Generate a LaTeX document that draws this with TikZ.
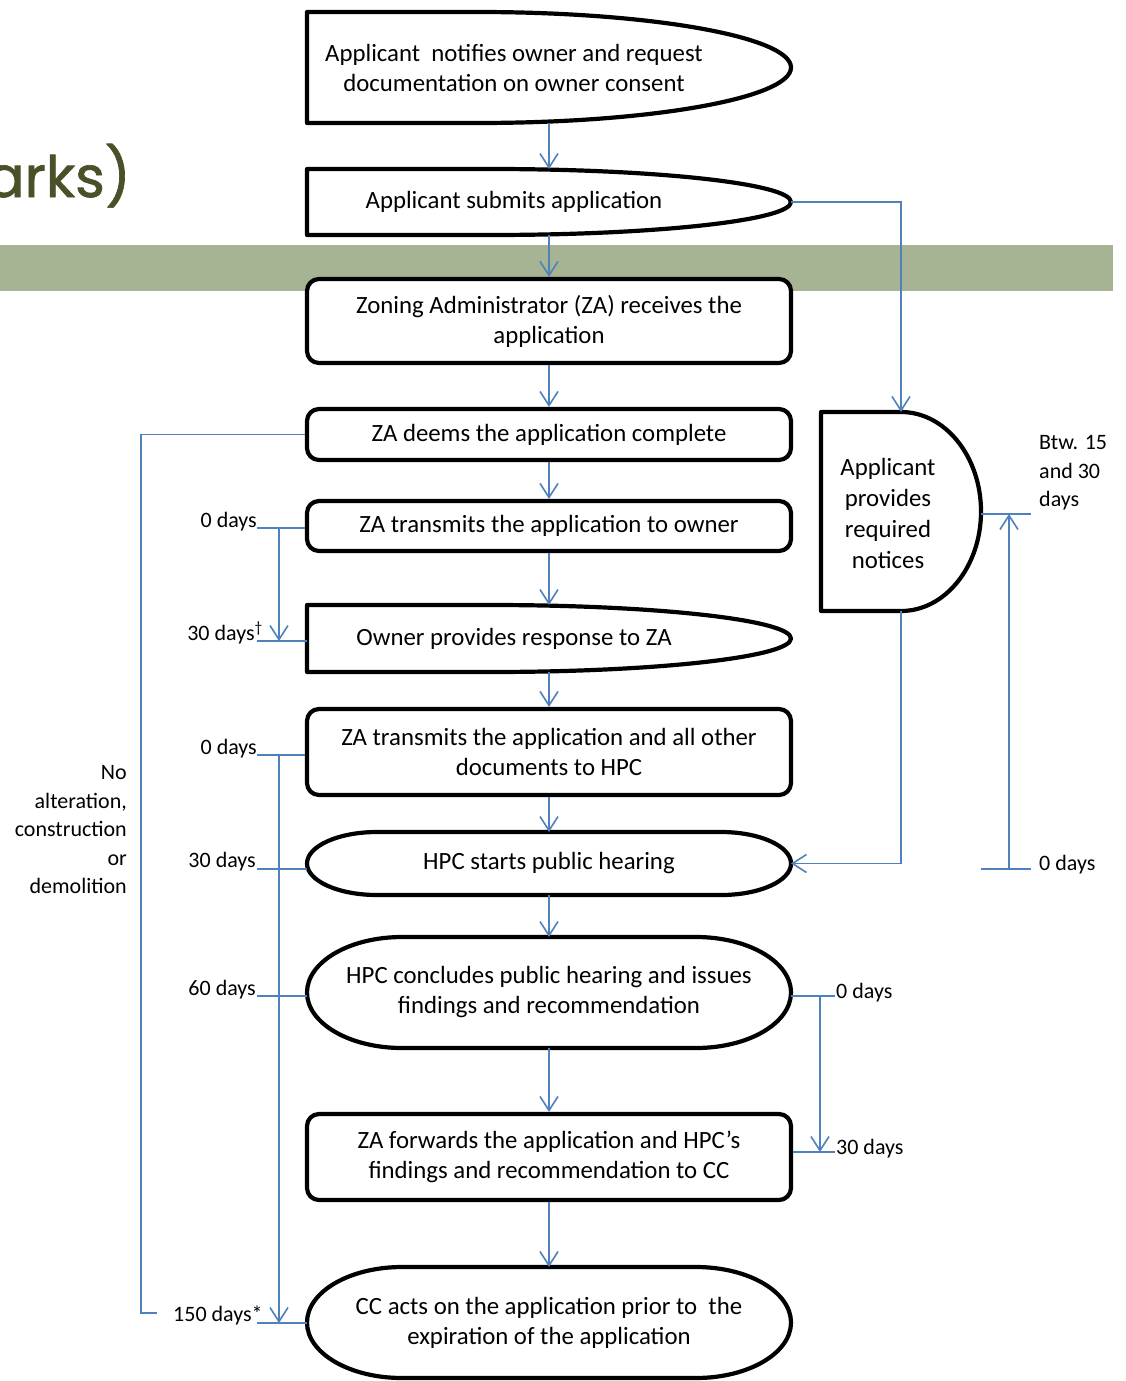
\documentclass[tikz,border=0pt]{standalone}
\usepackage{fontspec}
\setmainfont{Carlito}
\newfontfamily\titlefont[FakeBold=1.2]{Poppins}
\usetikzlibrary{arrows.meta}
\definecolor{blu}{RGB}{79,129,189}
\definecolor{bandgreen}{RGB}{166,180,147}
\definecolor{olivetitle}{RGB}{74,81,40}
\newcommand\boxfont{\fontsize{24.8}{30}\selectfont}
\newcommand\lblfont{\fontsize{22}{28.5}\selectfont}
\begin{document}
\begin{tikzpicture}[x=1pt,y=-1pt,
  shp/.style={draw=black, line width=4.2pt, fill=white, line join=round},
  rbox/.style={shp, rounded corners=12pt, inner sep=0pt, align=center, font=\boxfont, minimum width=484},
  ghost/.style={inner sep=0pt, outer sep=0pt, align=center, font=\boxfont},
  txt/.style={inner sep=0pt, align=center, font=\boxfont},
  lbl/.style={inner sep=0pt, font=\lblfont},
  conn/.style={draw=blu, line width=1.6pt},
  arr/.style={conn, -{Straight Barb[length=14pt,width=18pt]}}]
\clip (0,0) rectangle (1125,1381);
\fill[white] (0,0) rectangle (1125,1381);
% background band and title
\fill[bandgreen] (0,245) rectangle (1113,291);
\node[anchor=base east, inner sep=0pt, font=\titlefont\fontsize{57}{60}\selectfont, text=olivetitle] (title) at (131,197) {arks)};

% b1 bullet
\draw[shp] (307,123) -- (307,12) -- (478,12) arc[start angle=-90,end angle=90,x radius=313,y radius=55.5] -- cycle;
\node[ghost, minimum width=484, minimum height=111] (b1) at (549,67.5) {};
\node[txt] (b1t) at (514,67.5) {Applicant\ \ notifies owner and request\\documentation on owner consent};

% b2 bullet
\draw[shp] (307,235) -- (307,169) -- (491,169) arc[start angle=-90,end angle=90,x radius=300,y radius=33] -- cycle;
\node[ghost, minimum width=484, minimum height=66] (b2) at (549,202) {};
\node[txt] (b2t) at (514,202) {Applicant submits application};

% b3 - b5 rounded
\node[rbox, minimum height=84] (b3) at (549,321) {Zoning Administrator (ZA) receives the\\application};
\node[rbox, minimum height=51] (b4) at (549,434.5) {ZA deems the application complete};
\node[rbox, minimum height=50] (b5) at (549,526) {ZA transmits the application to owner};

% b6 bullet
\draw[shp] (307,672) -- (307,605) -- (491,605) arc[start angle=-90,end angle=90,x radius=300,y radius=33.5] -- cycle;
\node[ghost, minimum width=484, minimum height=67] (b6) at (549,638.5) {};
\node[txt] (b6t) at (514,638.5) {Owner provides response to ZA};

% b7 rounded
\node[rbox, minimum height=86] (b7) at (549,752) {ZA transmits the application and all other\\documents to HPC};

% b8 stadium
\draw[shp] (377,832) -- (721,832) arc[start angle=-90,end angle=90,x radius=70,y radius=31.5] -- (377,895) arc[start angle=90,end angle=270,x radius=70,y radius=31.5] -- cycle;
\node[ghost, minimum width=484, minimum height=63] (b8) at (549,863.5) {HPC starts public hearing};

% b9 stadium
\draw[shp] (402,937) -- (696,937) arc[start angle=-90,end angle=90,x radius=95,y radius=55.5] -- (402,1048) arc[start angle=90,end angle=270,x radius=95,y radius=55.5] -- cycle;
\node[ghost, minimum width=484, minimum height=111] (b9) at (549,992.5) {HPC concludes public hearing and issues\\findings and recommendation};

% b10 rounded
\node[rbox, minimum height=86] (b10) at (549,1157) {ZA forwards the application and HPC’s\\findings and recommendation to CC};

% b11 stadium
\draw[shp] (402,1267) -- (696,1267) arc[start angle=-90,end angle=90,x radius=95,y radius=55.5] -- (402,1378) arc[start angle=90,end angle=270,x radius=95,y radius=55.5] -- cycle;
\node[ghost, minimum width=484, minimum height=111] (b11) at (549,1322.5) {CC acts on the application prior to\ \ the\\expiration of the application};

% delay shape
\draw[shp] (821,611) -- (821,412) -- (901,412) arc[start angle=-90,end angle=90,x radius=80,y radius=99.5] -- cycle;
\node[ghost, minimum width=160, minimum height=199] (d) at (901,511.5) {};
\node[txt, font=\fontsize{24.8}{31}\selectfont] (dt) at (888,513) {Applicant\\provides\\required\\notices};

% main flow connectors
\draw[arr] (b1.south) -- (b2.north);
\draw[arr] (b2.south) -- (b3.north);
\draw[arr] (b3.south) -- (b4.north);
\draw[arr] (b4.south) -- (b5.north);
\draw[arr] (b5.south) -- (b6.north);
\draw[arr] (b6.south) -- (b7.north);
\draw[arr] (b7.south) -- (b8.north);
\draw[arr] (b8.south) -- (b9.north);
\draw[arr] (b9.south) -- (b10.north);
\draw[arr] (b10.south) -- (b11.north);
\draw[arr] (b2.east) -| (d.north);
\draw[arr] (d.south) |- (b8.east);

% left long line
\coordinate (L0) at (141,1313);
\coordinate (L1) at (157,1313);
\draw[conn] (b4.west) -| (L0) -- (L1);

% left ticks
\coordinate (tA) at (257,528);
\coordinate (tB) at (257,641);
\coordinate (tC) at (257,755);
\coordinate (tD) at (257,869);
\coordinate (tE) at (257,996);
\coordinate (tF) at (257,1323);
\draw[conn] (tA) -- (tA -| b5.west);
\draw[conn] (tB) -- (tB -| b6.west);
\draw[conn] (tC) -- (tC -| b7.west);
\draw[conn] (tD) -- (tD -| b8.west);
\draw[conn] (tE) -- (tE -| b9.west);
\draw[conn] (tF) -- (tF -| b11.west);
\coordinate (vA) at (279,528);
\coordinate (vB) at (279,641);
\coordinate (vC) at (279,755);
\coordinate (vD) at (279,1323);
\draw[arr] (vA) -- (vB);
\draw[arr] (vC) -- (vD);

% right lower ticks
\coordinate (sA) at (835,996);
\coordinate (sB) at (835,1152);
\draw[conn] (sA -| b9.east) -- (sA);
\draw[conn] (sB -| b10.east) -- (sB);
\coordinate (wA) at (820,996);
\coordinate (wB) at (820,1152);
\draw[arr] (wA) -- (wB);

% far right ticks
\coordinate (ra1) at (981,514);
\coordinate (ra2) at (1031,514);
\coordinate (rb1) at (981,869);
\coordinate (rb2) at (1031,869);
\coordinate (rv1) at (1009,869);
\coordinate (rv2) at (1009,514);
\draw[conn] (ra1) -- (ra2);
\draw[conn] (rb1) -- (rb2);
\draw[arr] (rv1) -- (rv2);

% labels
\node[lbl, anchor=base east] (l0a) at (257,527) {0 days};
\node[lbl, anchor=base east] (l30a) at (263,640) {30 days\textsuperscript{†}};
\node[lbl, anchor=base east] (l0b) at (257,754) {0 days};
\node[lbl, anchor=base east] (l30b) at (256,867) {30 days};
\node[lbl, anchor=base east] (l60) at (256,995) {60 days};
\node[lbl, anchor=base west] (l150) at (173,1321) {150 days*};
\node[lbl, anchor=base west] (r0) at (836,998) {0 days};
\node[lbl, anchor=base west] (r30) at (836,1154) {30 days};
\node[lbl, anchor=base west] (far0) at (1039,870) {0 days};
\node[lbl, anchor=west, align=left] (btw) at (1039,473) {Btw. 15\\and 30\\days};
\node[lbl, anchor=east, align=right] (noalt) at (127,830) {No\\alteration,\\construction\\or\\demolition};
\end{tikzpicture}
\end{document}
